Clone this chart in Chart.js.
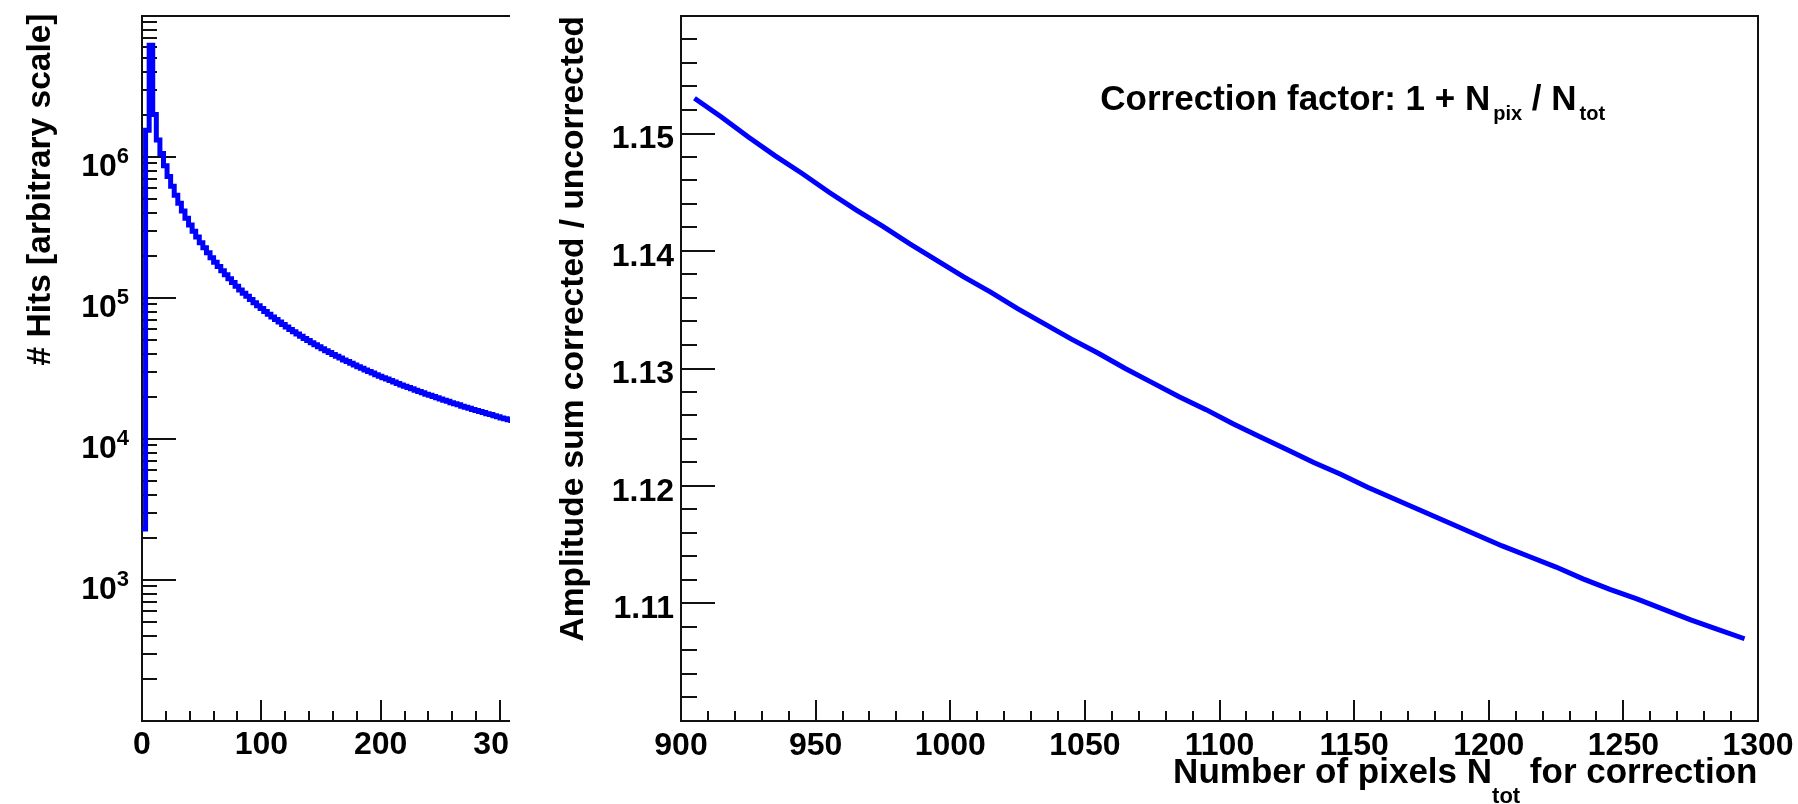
<!DOCTYPE html>
<html>
<head>
<meta charset="utf-8">
<script src="https://cdn.jsdelivr.net/npm/chart.js@4.4.1/dist/chart.umd.min.js"></script>
<style>
  html, body { margin: 0; padding: 0; background: #fff; }
  #page { position: relative; width: 1798px; height: 804px; overflow: hidden; background: #fff; }
  #left-wrap { position: absolute; left: 0; top: 0; width: 510px; height: 804px; overflow: hidden; }
  #right-wrap { position: absolute; left: 520px; top: 0; width: 1278px; height: 804px; }
  canvas { display: block; }
</style>
</head>
<body>
<div id="page">
  <div id="left-wrap"><canvas id="hits" width="600" height="804"></canvas></div>
  <div id="right-wrap"><canvas id="ratio" width="1278" height="804"></canvas></div>
</div>
<script>
// Hit spectrum (log scale, 3-unit bins starting at 0) next to the
// amplitude correction ratio vs. number of pixels used for the correction.

var BIN_WIDTH = 3;
var hits = [
  2300, 1550000, 6200000, 2000000, 1320000, 1060000, 867000, 727000, 620000, 536000,
  469000, 414000, 368000, 330000, 298000, 271000, 247000, 227000, 209000, 193000,
  179000, 167000, 156000, 146000, 137000, 129000, 121000, 114000, 108000, 103000,
  97400, 92600, 88200, 84100, 80300, 76700, 73400, 70400, 67500, 64800,
  62200, 59900, 57600, 55500, 53500, 51700, 49900, 48200, 46600, 45100,
  43700, 42300, 41000, 39800, 38600, 37500, 36400, 35400, 34400, 33500,
  32600, 31700, 30900, 30100, 29400, 28600, 27900, 27200, 26600, 26000,
  25400, 24800, 24200, 23700, 23200, 22700, 22200, 21700, 21300, 20800,
  20400, 20000, 19600, 19200, 18800, 18500, 18100, 17800, 17500, 17100,
  16800, 16500, 16200, 15900, 15700, 15400, 15100, 14900, 14600, 14400,
  14100, 13900, 13700, 13500
];

var nTot = [
  905, 915, 925, 935, 945, 955, 965, 975, 985, 995,
  1005, 1015, 1025, 1035, 1045, 1055, 1065, 1075, 1085, 1095,
  1105, 1115, 1125, 1135, 1145, 1155, 1165, 1175, 1185, 1195,
  1205, 1215, 1225, 1235, 1245, 1255, 1265, 1275, 1285, 1295
];
var ampRatio = [
  1.1530, 1.1514, 1.1497, 1.1481, 1.1466, 1.1450, 1.1435, 1.1421, 1.1406, 1.1392,
  1.1378, 1.1365, 1.1351, 1.1338, 1.1325, 1.1313, 1.1300, 1.1288, 1.1276, 1.1265,
  1.1253, 1.1242, 1.1231, 1.1220, 1.1210, 1.1199, 1.1189, 1.1179, 1.1169, 1.1159,
  1.1149, 1.1140, 1.1131, 1.1121, 1.1112, 1.1104, 1.1095, 1.1086, 1.1078, 1.1070
];

// axis ticks
var hitsXMajor = [0, 100, 200, 300];
var hitsXLabels = ["0", "100", "200", "300"];
var hitsXMinorStep = 20;
var hitsDecades = [2, 3, 4, 5, 6, 7];
var hitsLabelledExp = [3, 4, 5, 6];
var ratioXMajor = [900, 950, 1000, 1050, 1100, 1150, 1200, 1250, 1300];
var ratioXLabels = ["900", "950", "1000", "1050", "1100", "1150", "1200", "1250", "1300"];
var ratioXMinorStep = 10;
var ratioYMajor = [1.11, 1.12, 1.13, 1.14, 1.15];
var ratioYLabels = ["1.11", "1.12", "1.13", "1.14", "1.15"];
var ratioYMinorStep = 0.002;

var INK = "#111";
var BLUE = "#0000ff";
var FAMILY = '"Liberation Sans", Arial, Helvetica, sans-serif';
function font(px) { return "bold " + px + "px " + FAMILY; }

// -------- drawing helpers --------
function minorValues(min, max, step, majorStep) {
  var out = [];
  var n = Math.round((max - min) / step);
  for (var i = 1; i < n; i++) {
    var v = min + i * step;
    var r = (v - min) / majorStep;
    if (Math.abs(r - Math.round(r)) > 1e-6) out.push(v);
  }
  return out;
}

function tickMarks(ctx, scale, area, values, len, onY) {
  ctx.beginPath();
  values.forEach(function (v) {
    var p = Math.round(scale.getPixelForValue(v));
    if (onY) { ctx.moveTo(area.left, p); ctx.lineTo(area.left + len, p); }
    else { ctx.moveTo(p, area.bottom); ctx.lineTo(p, area.bottom - len); }
  });
  ctx.stroke();
}

function frame(ctx, area) {
  ctx.strokeStyle = INK;
  ctx.lineWidth = 2;
  ctx.strokeRect(Math.round(area.left), Math.round(area.top),
    Math.round(area.right - area.left), Math.round(area.bottom - area.top));
}

// text with subscripts; parts = [{t: "...", sub: bool}]
function richWidth(ctx, parts, size, subSize, subGap) {
  var w = 0;
  parts.forEach(function (p) {
    ctx.font = font(p.sub ? subSize : size);
    w += ctx.measureText(p.t).width + (p.sub ? subGap : 0);
  });
  return w;
}
function richText(ctx, parts, x, y, size, subSize, subDrop, subGap) {
  ctx.textAlign = "left";
  ctx.textBaseline = "alphabetic";
  parts.forEach(function (p) {
    if (p.sub) {
      x += subGap;
      ctx.font = font(subSize);
      ctx.fillText(p.t, x, y + subDrop);
    } else {
      ctx.font = font(size);
      ctx.fillText(p.t, x, y);
    }
    x += ctx.measureText(p.t).width;
  });
}

function rotatedTitle(ctx, text, x, yEnd, size) {
  ctx.save();
  ctx.translate(x, yEnd);
  ctx.rotate(-Math.PI / 2);
  ctx.font = font(size);
  ctx.fillStyle = "#000";
  ctx.textAlign = "right";
  ctx.textBaseline = "alphabetic";
  ctx.fillText(text, 0, 0);
  ctx.restore();
}

// -------- hit spectrum --------
var hitsPoints = hits.map(function (v, i) { return { x: i * BIN_WIDTH, y: v }; });
hitsPoints.push({ x: hits.length * BIN_WIDTH, y: hits[hits.length - 1] });

var hitsAxes = {
  id: "hitsAxes",
  beforeDatasetsDraw: function (chart) {
    var ctx = chart.ctx, a = chart.chartArea, x = chart.scales.x, y = chart.scales.y;
    ctx.save();
    frame(ctx, a);
    var yMinor = [];
    hitsDecades.slice(0, -1).forEach(function (e) {
      for (var d = 2; d <= 9; d++) yMinor.push(d * Math.pow(10, e));
    });
    tickMarks(ctx, x, a, hitsXMajor, 21, false);
    tickMarks(ctx, x, a, minorValues(0, 360, hitsXMinorStep, 100), 10, false);
    tickMarks(ctx, y, a, hitsDecades.map(function (e) { return Math.pow(10, e); }), 34, true);
    tickMarks(ctx, y, a, yMinor, 15, true);
    ctx.restore();
  },
  afterDraw: function (chart) {
    var ctx = chart.ctx, x = chart.scales.x, y = chart.scales.y;
    ctx.save();
    ctx.fillStyle = "#000";
    ctx.textBaseline = "alphabetic";
    ctx.font = font(32);
    ctx.textAlign = "center";
    hitsXMajor.forEach(function (v, i) {
      ctx.fillText(hitsXLabels[i], x.getPixelForValue(v), 754);
    });
    hitsLabelledExp.forEach(function (e) {
      var p = y.getPixelForValue(Math.pow(10, e));
      ctx.textAlign = "right";
      ctx.font = font(22);
      var supW = ctx.measureText(String(e)).width;
      ctx.fillText(String(e), 129, p + 6);
      ctx.font = font(32);
      ctx.fillText("10", 129 - supW, p + 18.5);
    });
    ctx.restore();
    rotatedTitle(ctx, "# Hits [arbitrary scale]", 49.5, 13.5, 33.5);
  }
};

new Chart(document.getElementById("hits").getContext("2d"), {
  type: "line",
  data: {
    datasets: [{
      data: hitsPoints,
      borderColor: BLUE,
      borderWidth: 5,
      stepped: "before",
      pointRadius: 0,
      fill: false,
      borderJoinStyle: "miter",
      borderCapStyle: "butt"
    }]
  },
  options: {
    responsive: false,
    animation: false,
    events: [],
    layout: { padding: { left: 142, top: 16, right: 40.3, bottom: 83 } },
    plugins: { legend: { display: false }, tooltip: { enabled: false } },
    scales: {
      x: { type: "linear", min: 0, max: 350, display: false },
      y: { type: "logarithmic", min: 100, max: 10000000, display: false }
    }
  },
  plugins: [hitsAxes]
});

// -------- correction ratio --------
var ratioAxes = {
  id: "ratioAxes",
  beforeDatasetsDraw: function (chart) {
    var ctx = chart.ctx, a = chart.chartArea, x = chart.scales.x, y = chart.scales.y;
    ctx.save();
    frame(ctx, a);
    tickMarks(ctx, x, a, ratioXMajor, 21, false);
    tickMarks(ctx, x, a, minorValues(900, 1300, ratioXMinorStep, 50), 10, false);
    tickMarks(ctx, y, a, ratioYMajor, 34, true);
    tickMarks(ctx, y, a, minorValues(1.10, 1.16, ratioYMinorStep, 0.01), 16, true);
    ctx.restore();
  },
  afterDraw: function (chart) {
    var ctx = chart.ctx, x = chart.scales.x, y = chart.scales.y;
    ctx.save();
    ctx.fillStyle = "#000";
    ctx.textBaseline = "alphabetic";
    ctx.font = font(32);
    ctx.textAlign = "center";
    ratioXMajor.forEach(function (v, i) {
      ctx.fillText(ratioXLabels[i], x.getPixelForValue(v), 754.5);
    });
    ctx.textAlign = "right";
    ratioYMajor.forEach(function (v, i) {
      ctx.fillText(ratioYLabels[i], 154, y.getPixelForValue(v) + 14.5);
    });

    var xTitle = [{ t: "Number of pixels N" }, { t: "tot", sub: true }, { t: " for correction" }];
    var w = richWidth(ctx, xTitle, 35, 22, 0);
    richText(ctx, xTitle, 1237.4 - w, 783, 35, 22, 20, 0);

    var note = [{ t: "Correction factor: 1 + N" }, { t: "pix", sub: true }, { t: " / N" }, { t: "tot", sub: true }];
    richText(ctx, note, 580.3, 110, 35, 20, 10, 3);
    ctx.restore();
    rotatedTitle(ctx, "Amplitude sum corrected / uncorrected", 63, 16, 33.5);
  }
};

new Chart(document.getElementById("ratio").getContext("2d"), {
  type: "line",
  data: {
    labels: nTot,
    datasets: [{
      data: nTot.map(function (n, i) { return { x: n, y: ampRatio[i] }; }),
      borderColor: BLUE,
      borderWidth: 5,
      pointRadius: 0,
      fill: false,
      tension: 0
    }]
  },
  options: {
    responsive: false,
    animation: false,
    events: [],
    layout: { padding: { left: 161, top: 16, right: 40, bottom: 83 } },
    plugins: { legend: { display: false }, tooltip: { enabled: false } },
    scales: {
      x: { type: "linear", min: 900, max: 1300, display: false },
      y: { type: "linear", min: 1.10, max: 1.16, display: false }
    }
  },
  plugins: [ratioAxes]
});
</script>
</body>
</html>
